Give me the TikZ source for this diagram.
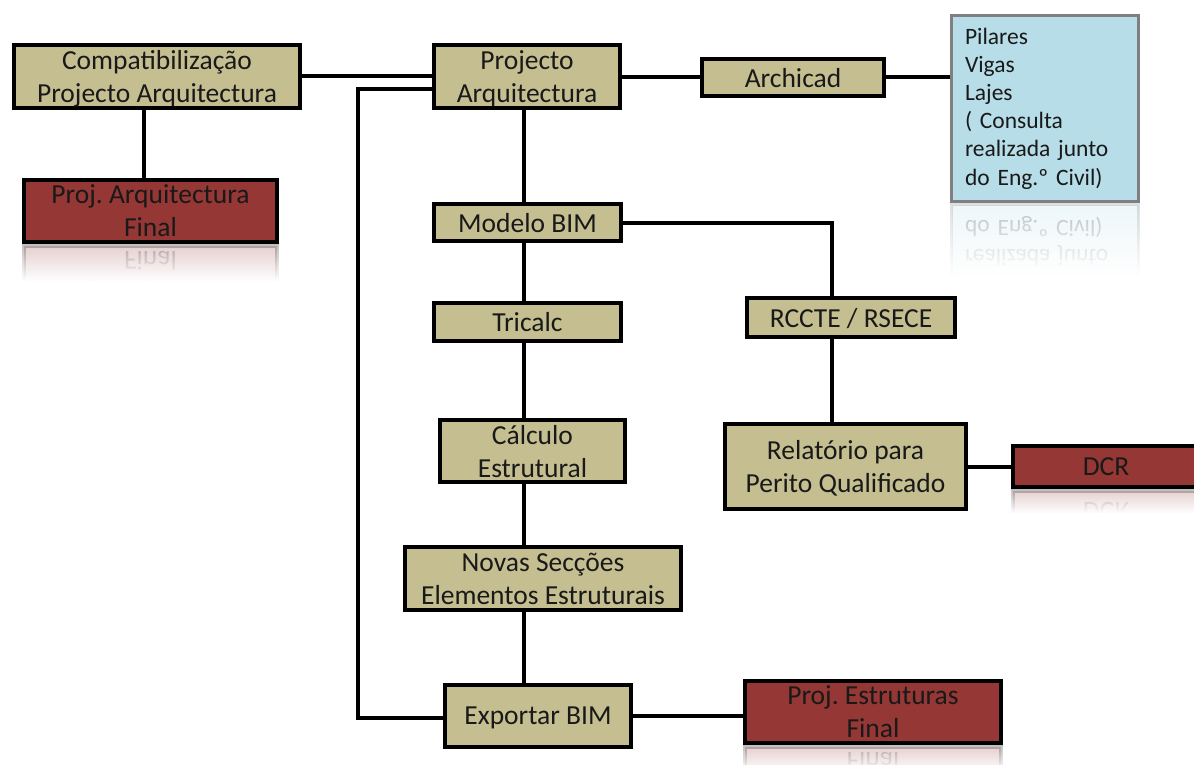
\documentclass[tikz,border=0pt]{standalone}
\usepackage{fontspec}
\setmainfont{Carlito}
\frenchspacing
\usetikzlibrary{fadings}
\definecolor{olivec}{RGB}{196,190,144}
\definecolor{redc}{RGB}{149,55,53}
\definecolor{bluec}{RGB}{183,222,232}
\definecolor{greyc}{RGB}{127,127,127}
\definecolor{txtc}{RGB}{25,25,25}
\tikzfading[name=fadedown, top color=transparent!100, bottom color=transparent!0]
\tikzset{
  basebox/.style={draw=black, line width=4pt, text=txtc, align=center,
    font=\fontsize{27.5}{33}\selectfont, inner sep=0pt, text depth=0pt},
  olivebox/.style={basebox, fill=olivec},
  redbox/.style={basebox, fill=redc},
  bluebox/.style={draw=greyc, line width=3.5pt, fill=bluec, text=txtc, align=left,
    font=\fontsize{23.5}{28.2}\selectfont, inner xsep=13pt, inner ysep=0pt,
    text width=160pt},
  link/.style={line width=4pt, draw=black},
  mirror/.style={yscale=-1, opacity=0.25},
  whitefade/.style={fill=white, path fading=fadedown}
}
\begin{document}
\begin{tikzpicture}[x=1pt,y=-1pt]
\useasboundingbox (0,0) rectangle (1194,765);

% reflections (drawn first)
\begin{scope}
  \clip (0,244) rectangle (300,280);
  \node[redbox, mirror, minimum width=253pt, minimum height=62pt] (rArq) at (150.5,277) {Proj. Arquitectura\\Final};
  \fill[whitefade] (0,244) rectangle (300,281);
\end{scope}
\begin{scope}
  \clip (940,203) rectangle (1150,275);
  \node[bluebox, mirror, minimum width=187pt, minimum height=186pt] (rBlue) at (1045,297.5) {Pilares\\Vigas\\Lajes\\( Consulta\\realizada junto\\do Eng.º Civil)};
  \fill[whitefade] (940,203) rectangle (1150,276);
\end{scope}
\begin{scope}
  \clip (1000,489) rectangle (1194,512);
  \node[redbox, mirror, minimum width=186pt, minimum height=41pt] (rDcr) at (1106,511.5) {DCR};
  \fill[whitefade] (1000,489) rectangle (1194,513);
\end{scope}
\begin{scope}
  \clip (735,745) rectangle (1010,765);
  \node[redbox, mirror, minimum width=256pt, minimum height=62pt] (rEst) at (873,778) {Proj. Estruturas\\Final};
  \fill[whitefade] (735,745) rectangle (1010,772);
\end{scope}

% boxes
\node[olivebox, minimum width=286pt, minimum height=63pt] (compat) at (157,76.5) {Compatibilização\\Projecto Arquitectura};
\node[redbox, minimum width=253pt, minimum height=62pt] (arqfinal) at (150.5,211) {Proj. Arquitectura\\Final};
\node[olivebox, minimum width=186pt, minimum height=63pt] (projarq) at (527,76.5) {Projecto\\Arquitectura};
\node[olivebox, minimum width=182pt, minimum height=37pt] (archicad) at (793,77.5) {Archicad};
\node[bluebox, minimum width=187pt, minimum height=186pt] (blue) at (1045,108.5) {Pilares\\Vigas\\Lajes\\( Consulta\\realizada junto\\do Eng.º Civil)};
\node[olivebox, minimum width=187pt, minimum height=37pt] (bim) at (527.5,222.5) {Modelo BIM};
\node[olivebox, minimum width=187pt, minimum height=38pt] (tricalc) at (527.5,322) {Tricalc};
\node[olivebox, minimum width=208pt, minimum height=39pt] (rccte) at (851,317.5) {RCCTE / RSECE};
\node[olivebox, minimum width=185pt, minimum height=62pt] (calculo) at (532.5,451) {Cálculo\\Estrutural};
\node[olivebox, minimum width=241pt, minimum height=85pt] (relat) at (845.5,466.5) {Relatório para\\Perito Qualificado};
\node[redbox, minimum width=186pt, minimum height=41pt] (dcr) at (1106,466.5) {DCR};
\node[olivebox, minimum width=276pt, minimum height=63pt] (novas) at (543,578.5) {Novas Secções\\Elementos Estruturais};
\node[olivebox, minimum width=186pt, minimum height=62pt] (export) at (538,716) {Exportar BIM};
\node[redbox, minimum width=256pt, minimum height=62pt] (estr) at (873,712) {Proj. Estruturas\\Final};

% helper coordinates
\coordinate (sx) at (524,0);
\coordinate (lx) at (358,0);
\coordinate (rx) at (832,0);
\coordinate (ax) at (144,0);
\coordinate (yTop) at (0,76);
\coordinate (yLow) at (0,89);
\coordinate (yExp) at (0,718);

% connectors
\draw[link] (compat.east |- yTop) -- (projarq.west |- yTop);
\draw[link] (compat.south -| ax) -- (arqfinal.north -| ax);
\draw[link] (projarq.west |- yLow) -- (lx |- yLow) -- (lx |- yExp) -- (export.west |- yExp);
\draw[link] (projarq.east |- archicad.west) -- (archicad.west);
\draw[link] (archicad.east) -- (blue.west |- archicad.east);
\draw[link] (projarq.south -| sx) -- (bim.north -| sx);
\draw[link] (bim.south -| sx) -- (tricalc.north -| sx);
\draw[link] (tricalc.south -| sx) -- (calculo.north -| sx);
\draw[link] (calculo.south -| sx) -- (novas.north -| sx);
\draw[link] (novas.south -| sx) -- (export.north -| sx);
\draw[link] (bim.east) -- (rx |- bim.east) -- (rx |- rccte.north);
\draw[link] (rccte.south -| rx) -- (relat.north -| rx);
\draw[link] (relat.east) -- (dcr.west);
\draw[link] (export.east) -- (estr.west |- export.east);
\end{tikzpicture}
\end{document}
